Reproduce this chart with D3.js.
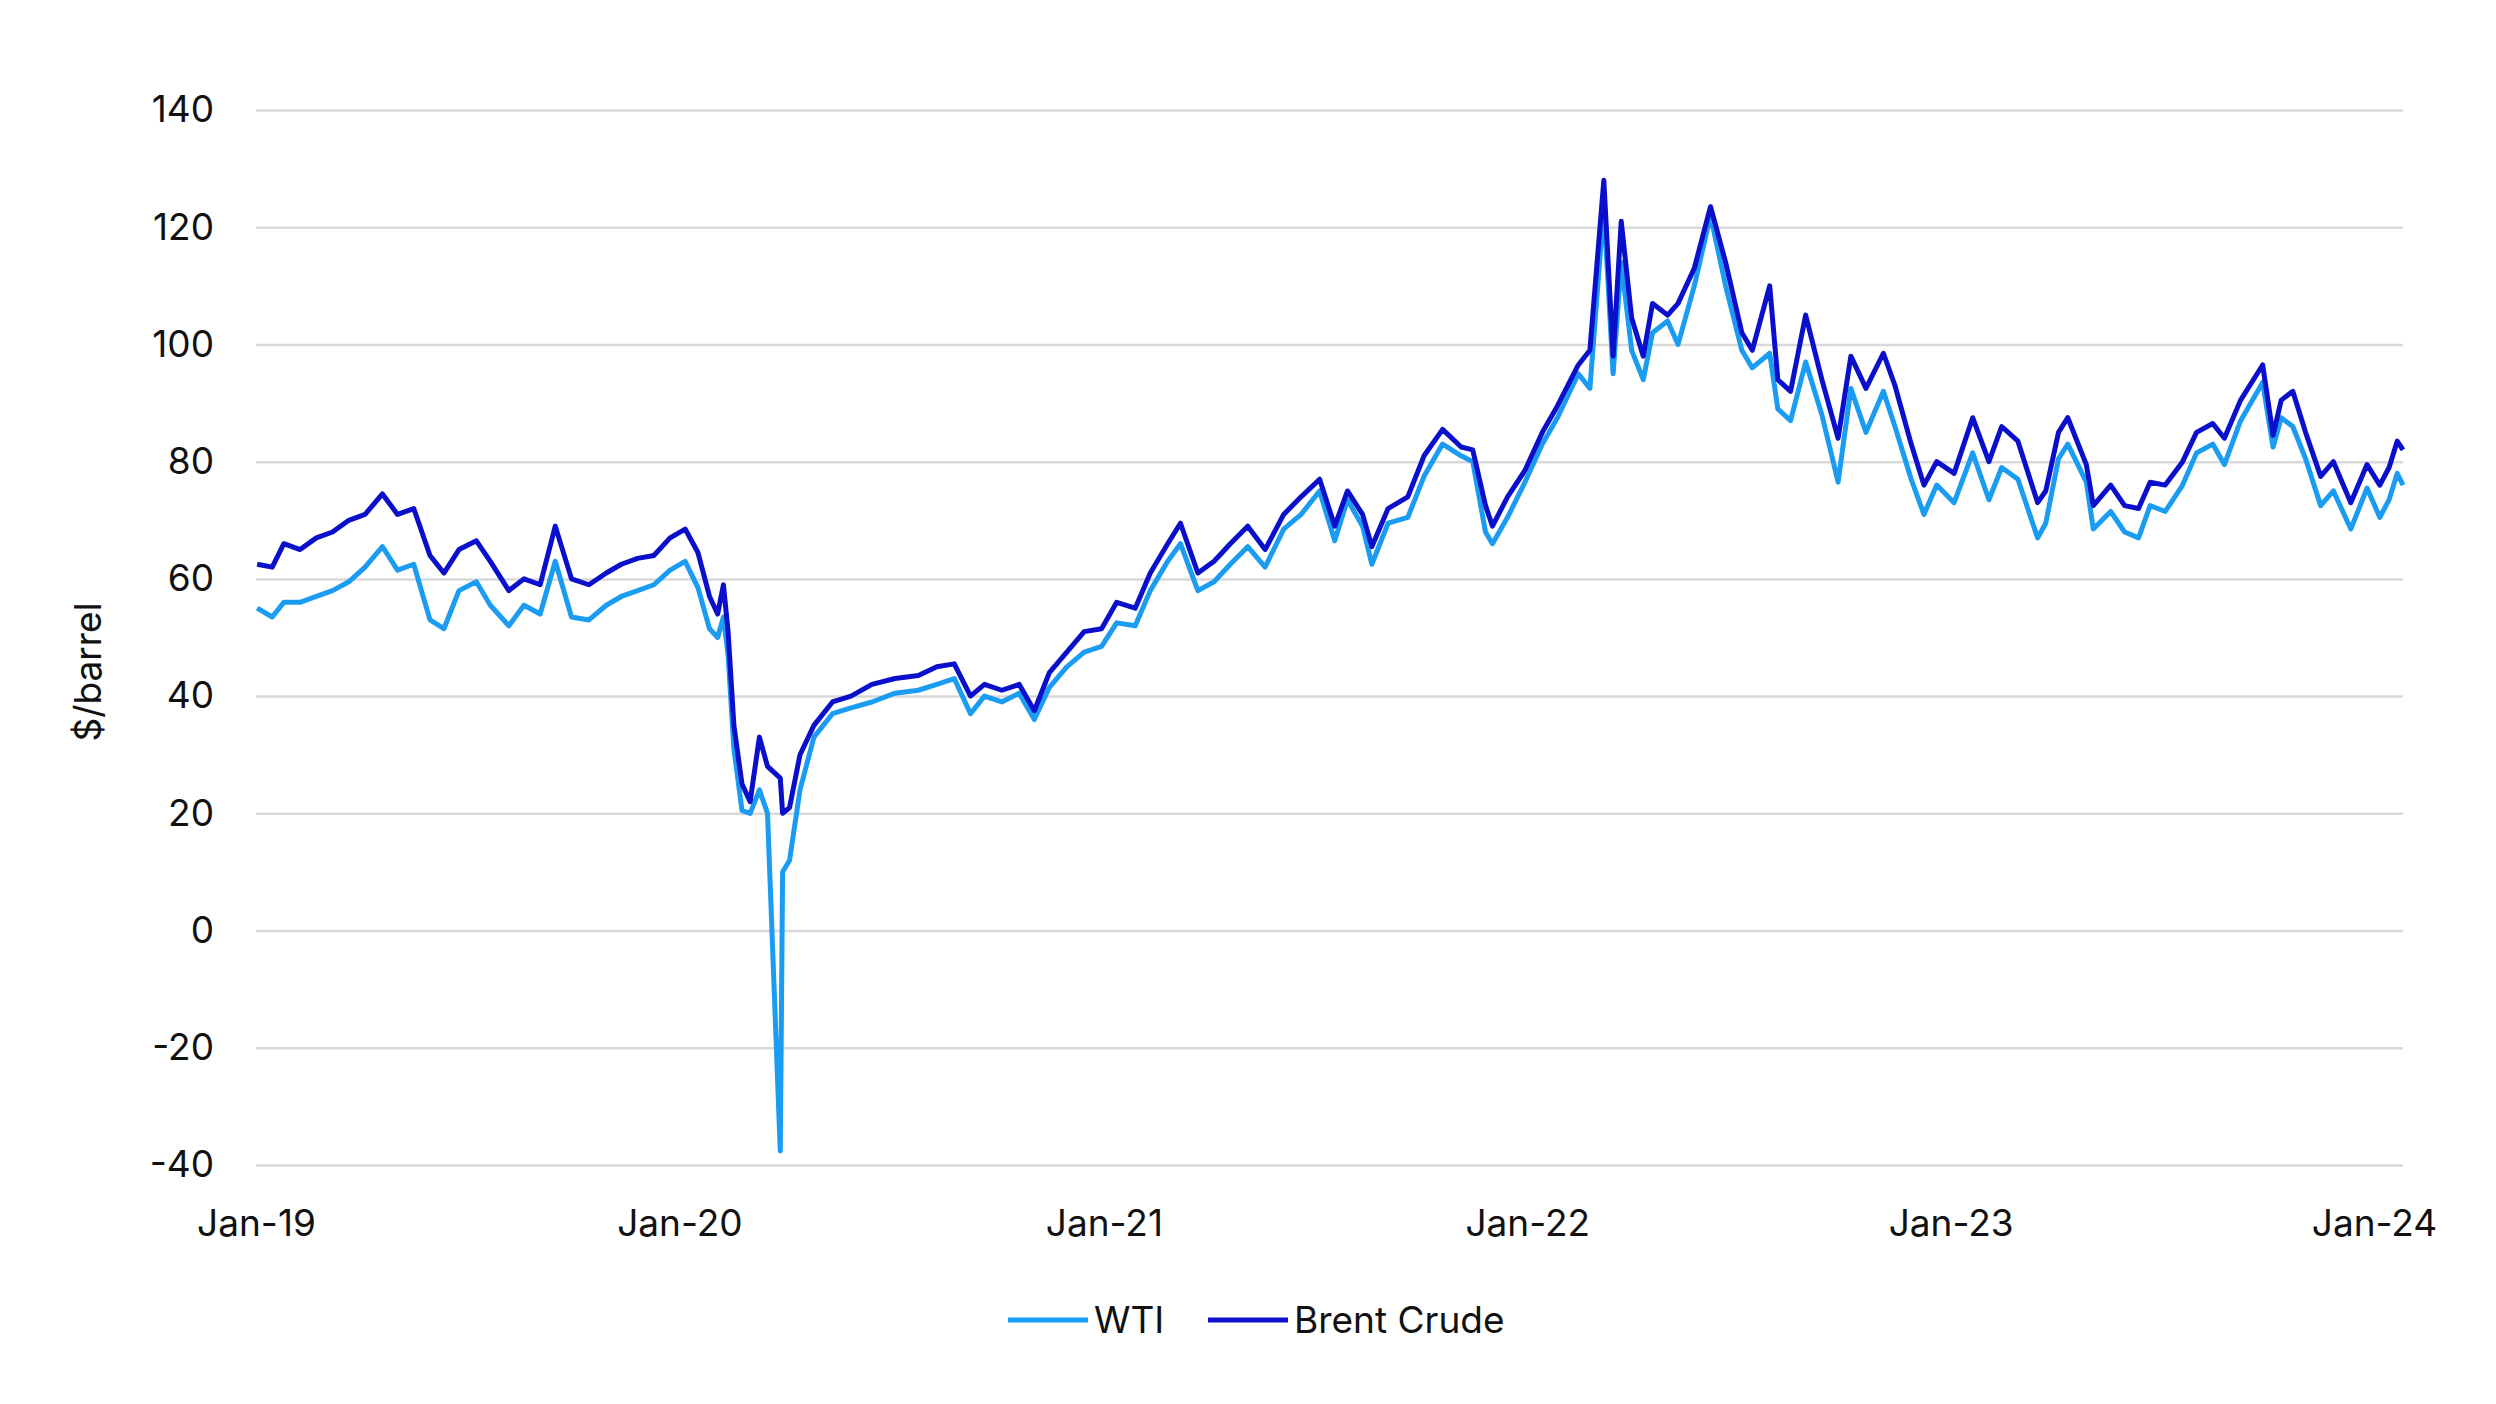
<!DOCTYPE html>
<html>
<head>
<meta charset="utf-8">
<script src="https://cdn.jsdelivr.net/npm/d3@7"></script>
<style>
  body { margin: 0; background: #fff; }
  text { font-family: Inter, "Open Sans", sans-serif; fill: #111; }
</style>
</head>
<body>
<div id="chart"></div>
<script>
const dates = ["2019-01-02","2019-01-15","2019-01-25","2019-02-08","2019-02-22","2019-03-08","2019-03-22","2019-04-05","2019-04-20","2019-05-03","2019-05-17","2019-05-31","2019-06-12","2019-06-25","2019-07-10","2019-07-22","2019-08-07","2019-08-20","2019-09-03","2019-09-16","2019-09-30","2019-10-15","2019-10-30","2019-11-12","2019-11-26","2019-12-10","2019-12-24",
"2020-01-06","2020-01-17","2020-01-27","2020-02-03","2020-02-08","2020-02-12","2020-02-17","2020-02-24","2020-03-02","2020-03-10","2020-03-17","2020-03-28","2020-03-30","2020-04-05","2020-04-14","2020-04-26","2020-05-12","2020-05-28","2020-06-15","2020-07-05","2020-07-25","2020-08-10","2020-08-25","2020-09-08","2020-09-20","2020-10-05","2020-10-20","2020-11-02","2020-11-15","2020-11-30","2020-12-15","2020-12-30",
"2021-01-12","2021-01-28","2021-02-10","2021-02-25","2021-03-08","2021-03-23","2021-04-06","2021-04-20","2021-05-05","2021-05-20","2021-06-05","2021-06-20","2021-07-06","2021-07-19","2021-07-30","2021-08-12","2021-08-20","2021-09-03","2021-09-20","2021-10-04","2021-10-20","2021-11-05","2021-11-15","2021-11-26","2021-12-02","2021-12-15","2021-12-30",
"2022-01-14","2022-01-27","2022-02-14","2022-02-24","2022-03-08","2022-03-16","2022-03-23","2022-04-01","2022-04-11","2022-04-19","2022-05-02","2022-05-11","2022-05-25","2022-06-08","2022-06-21","2022-07-05","2022-07-14","2022-07-29","2022-08-05","2022-08-16","2022-08-29","2022-09-12","2022-09-26","2022-10-07","2022-10-20","2022-11-04","2022-11-14","2022-11-28","2022-12-09","2022-12-20",
"2023-01-04","2023-01-20","2023-02-03","2023-02-14","2023-02-28","2023-03-17","2023-03-24","2023-04-04","2023-04-12","2023-04-28","2023-05-04","2023-05-19","2023-05-31","2023-06-12","2023-06-22","2023-07-05","2023-07-20","2023-08-01","2023-08-15","2023-08-25","2023-09-08","2023-09-27","2023-10-06","2023-10-13","2023-10-23","2023-11-03","2023-11-16","2023-11-27","2023-12-12","2023-12-26",
"2024-01-06","2024-01-14","2024-01-21","2024-01-26"];

const brent = [62.5,62,66,65,67,68,70,71,74.5,71,72,64,61,65,66.5,63,58,60,59,69,60,59,61,62.5,63.5,64,67,
68.5,64.5,57,54,59,51,35,25,22,33,28,26,20,21,30,35,39,40,42,43,43.5,45,45.5,40,42,41,42,37.5,44,47.5,51,51.5,
56,55,61,66,69.5,61,63,66,69,65,71,74,77,69,75,71,65.5,72,74,81,85.5,82.5,82,72.5,69,74,78.5,
85,89.5,96.5,99,128,98,121,104.5,98,107,105,107,113,123.5,114,102,99,110,94,92,105,94,84,98,92.5,98.5,93,83,76,80,
78,87.5,80,86,83.5,73,75,85,87.5,79.5,72.5,76,72.5,72,76.5,76,80,85,86.5,84,90.5,96.5,84.5,90.5,92,85,77.5,80,73,79.5,
76,79,83.5,82];

const wti = [55,53.5,56,56,57,58,59.5,62,65.5,61.5,62.5,53,51.5,58,59.5,55.5,52,55.5,54,63,53.5,53,55.5,57,58,59,61.5,
63,58.5,51.5,50,53.5,47,31,20.5,20,24,20,-37.6,10,12,24,33,37,38,39,40.5,41,42,43,37,40,39,40.5,36,41.5,45,47.5,48.5,
52.5,52,58,63,66,58,59.5,62.5,65.5,62,68.5,71,75,66.5,73.5,69,62.5,69.5,70.5,77.5,83,81,80,68,66,70.5,76.5,
83,87.5,95,92.5,123.5,95,114,99,94,102,104,100,110,122,110,99,96,98.5,89,87,97,88,76.5,92.5,85,92,86,77,71,76,
73,81.5,73.5,79,77,67,69.5,80.5,83,76.5,68.5,71.5,68,67,72.5,71.5,76,81.5,83,79.5,87,93.5,82.5,87.5,86,80.5,72.5,75,68.5,75.5,
70.5,73.5,78,76];

const yTicks = [-40,-20,0,20,40,60,80,100,120,140];
const xTickDates = ["2019-01-01","2020-01-01","2021-01-01","2022-01-01","2023-01-01","2024-01-01"];
const seriesNames = ["WTI", "Brent Crude"];
const seriesColors = ["#1a9cf2", "#0a0fcc"];

const W = 2496, H = 1404;
const margin = {top: 110, right: 93, bottom: 239, left: 256};
const width = W - margin.left - margin.right,
      height = H - margin.top - margin.bottom;

const parse = d3.timeParse("%Y-%m-%d");
const fmt = d3.timeFormat("%b-%y");

const svg = d3.select("#chart").append("svg")
    .attr("width", W).attr("height", H)
  .append("g")
    .attr("transform", `translate(${margin.left}, ${margin.top})`);

const x = d3.scaleTime()
    .domain([parse("2019-01-01"), parse("2024-01-26")])
    .range([0, width]);
const y = d3.scaleLinear().domain([-40, 140]).range([height, 0]);

// gridlines + y labels
const yAxis = svg.append("g")
    .call(d3.axisLeft(y).tickValues(yTicks).tickSize(-width).tickPadding(42)
      .tickFormat(d => String(d)));
yAxis.select(".domain").remove();
yAxis.selectAll("line").attr("stroke", "#d9d9d9").attr("stroke-width", 2.5);
yAxis.selectAll("text").style("font-size", "37px").style("font-family", "Inter, sans-serif").attr("fill", "#111");

// x labels
const xAxis = svg.append("g")
    .attr("transform", `translate(0, ${height})`)
    .call(d3.axisBottom(x).tickValues(xTickDates.map(parse)).tickSize(0).tickPadding(45).tickFormat(fmt));
xAxis.select(".domain").remove();
xAxis.selectAll("text").style("font-size", "37px").style("font-family", "Inter, sans-serif").attr("fill", "#111");

// y title
svg.append("text")
    .attr("transform", `translate(${88 - margin.left}, ${672 - margin.top}) rotate(-90)`)
    .attr("text-anchor", "middle")
    .attr("dy", "0.35em")
    .style("font-size", "37px")
    .text("$/barrel");

const parsedDates = dates.map(parse);
const line = d3.line()
    .x((d, i) => x(parsedDates[i]))
    .y(d => y(d));

[wti, brent].forEach((vals, i) => {
  svg.append("path")
      .datum(vals)
      .attr("fill", "none")
      .attr("stroke", seriesColors[i])
      .attr("stroke-width", 5)
      .attr("stroke-linejoin", "round")
      .attr("d", line);
});

// legend
const legend = svg.append("g").attr("transform", `translate(${1008 - margin.left}, ${1320 - margin.top})`);
const legendX = [0, 200];
seriesNames.forEach((name, i) => {
  const g = legend.append("g").attr("transform", `translate(${legendX[i]}, 0)`);
  g.append("line").attr("x1", 0).attr("x2", 80).attr("y1", 0).attr("y2", 0)
      .attr("stroke", seriesColors[i]).attr("stroke-width", 5);
  g.append("text").attr("x", 86).attr("dy", "0.35em").style("font-size", "37px").text(name);
});
</script>
</body>
</html>
